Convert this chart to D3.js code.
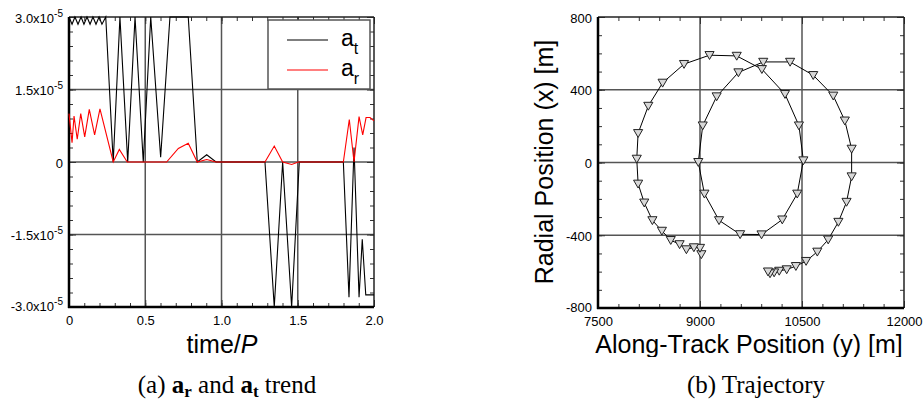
<!DOCTYPE html>
<html>
<head>
<meta charset="utf-8">
<script src="https://cdn.jsdelivr.net/npm/d3@7"></script>
<style>
  html, body { margin: 0; padding: 0; background: #fff; }
  svg { display: block; }
  .tick text { font-family: "Liberation Sans", Arial, sans-serif; font-size: 13px; fill: #000; }
</style>
</head>
<body>
<svg id="fig" width="924" height="406"></svg>
<script>
// ---- (a) acceleration trend: time/P vs a_t, a_r ----
const timeAt = [0, 0.020, 0.039, 0.059, 0.079, 0.098, 0.118, 0.138, 0.157, 0.177, 0.197, 0.216, 0.241,
  0.290, 0.334, 0.385, 0.433, 0.487, 0.536, 0.601, 0.662, 0.782, 0.841, 0.903, 0.964,
  1.285, 1.346, 1.401, 1.460, 1.510, 1.799, 1.836, 1.869, 1.902, 1.923, 1.946, 2.0];
const aT = [3.0, 2.85, 3.0, 2.85, 3.0, 2.85, 3.0, 2.85, 3.0, 2.85, 3.0, 2.85, 3.0,
  0, 3.0, 0, 3.0, 0, 3.0, 0.1, 3.0, 3.0, 0, 0.15, 0,
  0, -3.0, 0, -3.0, 0, 0, -2.8, 0.3, -2.8, -1.6, -2.75, -2.75]; // ×1e-5

const timeAr = [0, 0.020, 0.033, 0.054, 0.077, 0.103, 0.133, 0.168, 0.203, 0.290, 0.330, 0.382,
  0.640, 0.717, 0.782, 0.841, 0.903, 0.964, 1.285, 1.346, 1.401, 1.460, 1.504,
  1.799, 1.838, 1.869, 1.902, 1.926, 1.948, 1.974, 2.0];
const aR = [1.0, 0.4, 0.95, 0.47, 1.0, 0.52, 1.09, 0.56, 1.1, 0, 0.26, 0,
  0, 0.28, 0.39, 0, 0.05, 0, 0, 0.33, 0, -0.05, 0,
  0, 0.88, 0, 0.94, 0.56, 0.92, 0.92, 0.85]; // ×1e-5

const timeTicks = [0, 0.5, 1.0, 1.5, 2.0];
const timeTickLabels = ["0", "0.5", "1.0", "1.5", "2.0"];
const accTicks = [-3.0e-5, -1.5e-5, 0, 1.5e-5, 3.0e-5];
const accTickLabels = [["-3.0x10", "-5"], ["-1.5x10", "-5"], ["0", ""], ["1.5x10", "-5"], ["3.0x10", "-5"]];
const legendNames = [["a", "t"], ["a", "r"]];
const seriesColors = ["#000000", "#ff0000"];

// ---- (b) trajectory: along-track y vs radial x ----
const alongTrack = [9020, 9000, 8910, 8800, 8700, 8570, 8440, 8300, 8180, 8090, 8070, 8090, 8240, 8450,
  8765, 9140, 9540, 9910, 10250, 10455, 10520, 10430, 10210, 9905, 9590, 9280, 9065, 8975,
  9040, 9245, 9565, 9930, 10325, 10665, 10960, 11130, 11230, 11230, 11155, 11035, 10885,
  10725, 10560, 10410, 10275, 10165, 10090, 10030, 10000];
const radial = [-505, -470, -467, -478, -450, -427, -376, -318, -221, -117, 20, 161, 311, 438,
  541, 590, 586, 513, 376, 203, 11, -172, -314, -396, -395, -318, -172, 2,
  203, 363, 495, 553, 553, 480, 367, 230, 75, -77, -217, -327, -424,
  -491, -542, -570, -588, -596, -605, -610, -600];
const alongTicks = [7500, 9000, 10500, 12000];
const radialTicks = [-800, -400, 0, 400, 800];

const svg = d3.select("#fig");
const sans = '"Liberation Sans", Arial, sans-serif';
const serif = '"Liberation Serif", "Times New Roman", serif';

function range(a, b, step) {
  const out = [];
  for (let v = a; v <= b + step * 1e-6; v += step) out.push(+v.toFixed(10));
  return out;
}

function frame(g, x, y, opts) {
  const [x0, x1] = x.range();
  const [y0, y1] = y.range(); // y0 bottom, y1 top
  // gridlines
  g.append("g").selectAll("line").data(opts.gridX).join("line")
    .attr("x1", d => x(d)).attr("x2", d => x(d)).attr("y1", y1).attr("y2", y0)
    .attr("stroke", "#555").attr("stroke-width", 1.5);
  g.append("g").selectAll("line").data(opts.gridY).join("line")
    .attr("x1", x0).attr("x2", x1).attr("y1", d => y(d)).attr("y2", d => y(d))
    .attr("stroke", "#555").attr("stroke-width", 1.5);

  const style = sel => {
    sel.select(".domain").remove();
    sel.selectAll(".tick line").attr("stroke", "#333").attr("stroke-width", 1);
  };
  // minor ticks on all four sides
  g.append("g").attr("transform", `translate(0,${y0})`)
    .call(d3.axisBottom(x).tickValues(opts.minorX).tickSize(-4).tickFormat("")).call(style);
  g.append("g").attr("transform", `translate(0,${y1})`)
    .call(d3.axisTop(x).tickValues(opts.minorX).tickSize(-4).tickFormat("")).call(style);
  g.append("g").attr("transform", `translate(${x0},0)`)
    .call(d3.axisLeft(y).tickValues(opts.minorY).tickSize(-4).tickFormat("")).call(style);
  g.append("g").attr("transform", `translate(${x1},0)`)
    .call(d3.axisRight(y).tickValues(opts.minorY).tickSize(-4).tickFormat("")).call(style);
  // major ticks with labels
  const bx = g.append("g").attr("transform", `translate(0,${y0})`)
    .call(d3.axisBottom(x).tickValues(opts.ticksX).tickSize(-7).tickPadding(9)
      .tickFormat((d, i) => opts.labelsX[i])).call(style);
  bx.selectAll(".tick text").attr("dy", "0.71em");
  g.append("g").attr("transform", `translate(0,${y1})`)
    .call(d3.axisTop(x).tickValues(opts.ticksX).tickSize(-7).tickFormat("")).call(style);
  const ly = g.append("g").attr("transform", `translate(${x0},0)`)
    .call(d3.axisLeft(y).tickValues(opts.ticksY).tickSize(-7).tickPadding(6).tickFormat("")).call(style);
  ly.selectAll(".tick text").each(function (d, i) {
    const t = d3.select(this).attr("dy", null).attr("y", i === 0 ? 3 : 5);
    const lab = opts.labelsY[i];
    t.append("tspan").text(lab[0]);
    if (lab[1]) t.append("tspan").attr("dy", -6).attr("font-size", 10).text(lab[1]);
  });
  g.append("g").attr("transform", `translate(${x1},0)`)
    .call(d3.axisRight(y).tickValues(opts.ticksY).tickSize(-7).tickFormat("")).call(style);
  // border: heavier left and bottom
  g.append("line").attr("x1", x0).attr("x2", x1).attr("y1", y1).attr("y2", y1)
    .attr("stroke", "#222").attr("stroke-width", 1.5);
  g.append("line").attr("x1", x1).attr("x2", x1).attr("y1", y1).attr("y2", y0)
    .attr("stroke", "#222").attr("stroke-width", 1.5);
  g.append("line").attr("x1", x0 - 1).attr("x2", x1).attr("y1", y0).attr("y2", y0)
    .attr("stroke", "#000").attr("stroke-width", 2.5);
  g.append("line").attr("x1", x0).attr("x2", x0).attr("y1", y1).attr("y2", y0 + 1)
    .attr("stroke", "#000").attr("stroke-width", 2.5);
}

// ================= panel (a) =================
const xA = d3.scaleLinear([0, 2], [69, 374]);
const yA = d3.scaleLinear([-3e-5, 3e-5], [307, 17]);
const gA = svg.append("g");

frame(gA, xA, yA, {
  gridX: [0.5, 1.0, 1.5], gridY: [-1.5e-5, 0, 1.5e-5],
  minorX: range(0, 2, 0.1), minorY: range(-3e-5, 3e-5, 0.3e-5),
  ticksX: timeTicks, labelsX: timeTickLabels,
  ticksY: accTicks, labelsY: accTickLabels
});

const lineA = d3.line().x(d => xA(d[0])).y(d => yA(d[1] * 1e-5));
gA.append("path").datum(timeAt.map((t, i) => [t, aT[i]]))
  .attr("d", lineA).attr("fill", "none").attr("stroke", seriesColors[0]).attr("stroke-width", 1.1);
gA.append("path").datum(timeAr.map((t, i) => [t, aR[i]]))
  .attr("d", lineA).attr("fill", "none").attr("stroke", seriesColors[1]).attr("stroke-width", 1.1);

// legend
const leg = gA.append("g");
leg.append("rect").attr("x", 268).attr("y", 20).attr("width", 102).attr("height", 69)
  .attr("fill", "#fff").attr("stroke", "#555").attr("stroke-width", 1.5);
legendNames.forEach((nm, i) => {
  const yy = 40 + i * 30;
  leg.append("line").attr("x1", 287).attr("x2", 328).attr("y1", yy).attr("y2", yy)
    .attr("stroke", seriesColors[i]).attr("stroke-width", 1.1);
  const t = leg.append("text").attr("x", 341).attr("y", yy + 6)
    .attr("font-family", sans).attr("font-size", 23);
  t.append("tspan").text(nm[0]);
  t.append("tspan").attr("dy", 8).attr("font-size", 16).text(nm[1]);
});

// axis title
const tA = svg.append("text").attr("x", 222).attr("y", 353).attr("text-anchor", "middle")
  .attr("font-family", sans).attr("font-size", 25);
tA.append("tspan").text("time/");
tA.append("tspan").attr("font-style", "italic").text("P");

// caption (a)
const capA = svg.append("text").attr("x", 227).attr("y", 393).attr("text-anchor", "middle")
  .attr("font-family", serif).attr("font-size", 25);
capA.append("tspan").text("(a) ");
capA.append("tspan").attr("font-weight", "bold").text("a");
capA.append("tspan").attr("font-weight", "bold").attr("font-size", 17).attr("dy", 4).text("r");
capA.append("tspan").attr("dy", -4).text(" and ");
capA.append("tspan").attr("font-weight", "bold").text("a");
capA.append("tspan").attr("font-weight", "bold").attr("font-size", 17).attr("dy", 4).text("t");
capA.append("tspan").attr("dy", -4).text(" trend");

// ================= panel (b) =================
const xB = d3.scaleLinear([7500, 12000], [598, 904]);
const yB = d3.scaleLinear([-800, 800], [308, 17]);
const gB = svg.append("g");

frame(gB, xB, yB, {
  gridX: [9000, 10500], gridY: [-400, 0, 400],
  minorX: range(7500, 12000, 300), minorY: range(-800, 800, 100),
  ticksX: alongTicks, labelsX: alongTicks.map(String),
  ticksY: radialTicks, labelsY: radialTicks.map(v => [String(v), ""])
});

const traj = alongTrack.map((v, i) => [v, radial[i]]);
gB.append("path").datum(traj)
  .attr("d", d3.line().x(d => xB(d[0])).y(d => yB(d[1])))
  .attr("fill", "none").attr("stroke", "#000").attr("stroke-width", 1);
const tri = d3.symbol().type(d3.symbolTriangle).size(36);
gB.append("g").selectAll("path").data(traj).join("path")
  .attr("d", tri)
  .attr("transform", d => `translate(${xB(d[0])},${yB(d[1]) - 1}) rotate(180)`)
  .attr("fill", "#d8d8d8").attr("stroke", "#222").attr("stroke-width", 1);

// axis titles (b)
svg.append("defs").append("clipPath").attr("id", "titleClip")
  .append("rect").attr("x", 560).attr("y", 330).attr("width", 364).attr("height", 27);
svg.append("text").attr("x", 749).attr("y", 353).attr("text-anchor", "middle")
  .attr("clip-path", "url(#titleClip)")
  .attr("font-family", sans).attr("font-size", 25).text("Along-Track Position (y) [m]");
svg.append("text").attr("transform", "translate(553,162) rotate(-90)")
  .attr("text-anchor", "middle").attr("font-family", sans).attr("font-size", 25)
  .text("Radial Position (x) [m]");

svg.append("text").attr("x", 756).attr("y", 393).attr("text-anchor", "middle")
  .attr("font-family", serif).attr("font-size", 25).text("(b) Trajectory");
</script>
</body>
</html>
